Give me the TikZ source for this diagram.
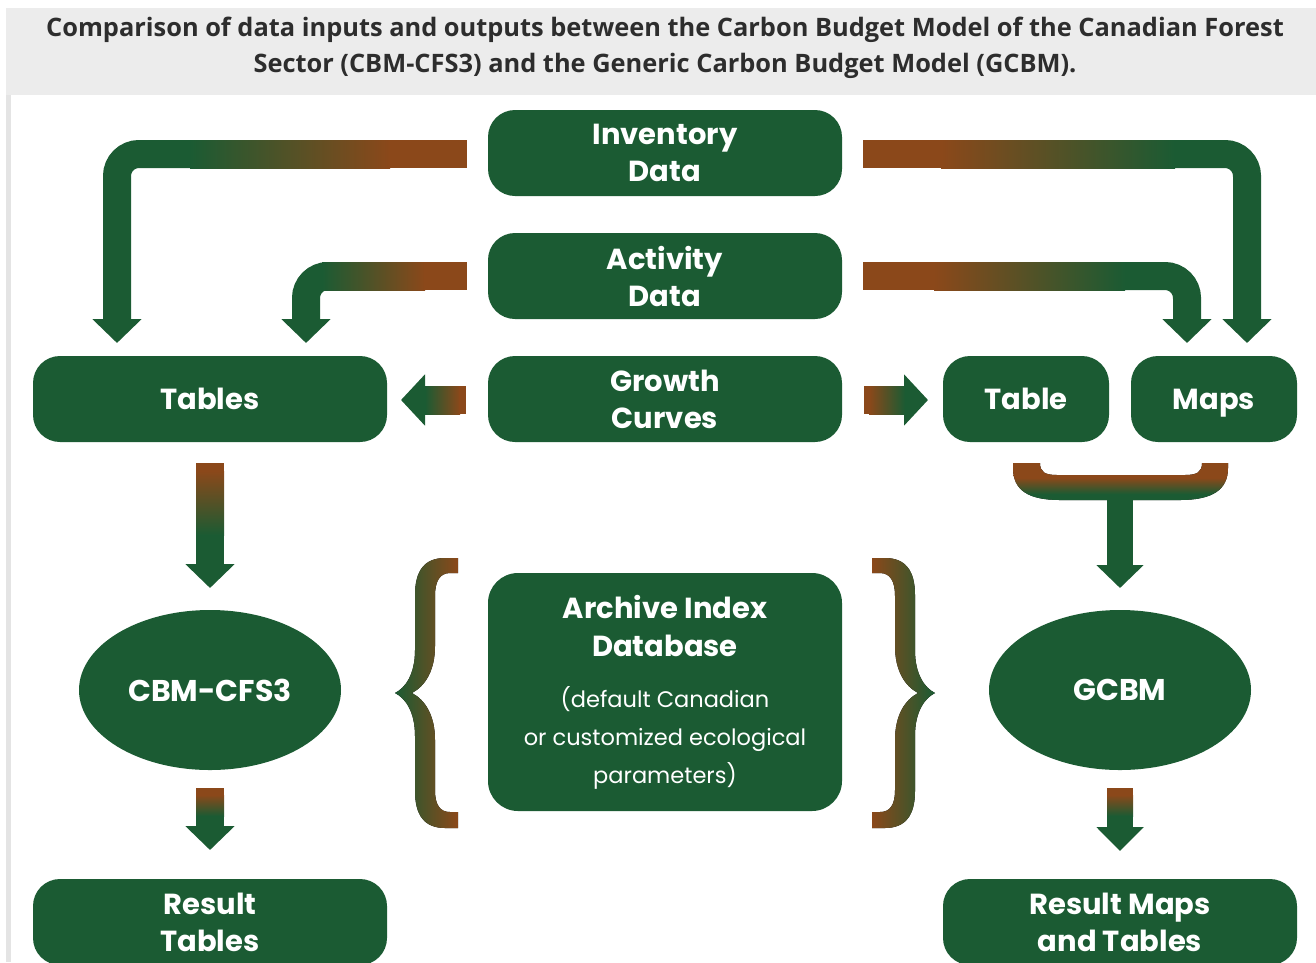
\documentclass[tikz,border=0pt]{standalone}
\usepackage{fontspec}
\setmainfont{Open Sans}
\newfontfamily\boxfont{Poppins}
\usetikzlibrary{shapes.geometric,arrows.meta}

\definecolor{forest}{RGB}{27,91,51}
\definecolor{bark}{RGB}{139,72,26}
\definecolor{titleink}{RGB}{45,45,45}
\definecolor{bandgray}{RGB}{236,236,236}
\definecolor{rulegray}{RGB}{228,228,228}

% bark at the top fading into forest green at the bottom
\pgfdeclareverticalshading{barkdown}{100bp}{color(0bp)=(forest); color(25bp)=(forest); color(33bp)=(forest); color(55bp)=(bark); color(75bp)=(bark); color(100bp)=(bark)}

% outline of a curly brace; #1 = 1 opens to the right, (-1) opens to the left
\newcommand\curlypath[1]{%
 ({665+#1*(-207)},558) -- ({665+#1*(-220)},558)
 .. controls ({665+#1*(-240)},558) and ({665+#1*(-250)},570) .. ({665+#1*(-250)},595)
 -- ({665+#1*(-250)},650)
 .. controls ({665+#1*(-250)},675) and ({665+#1*(-260)},688) .. ({665+#1*(-270)},693)
 .. controls ({665+#1*(-260)},698) and ({665+#1*(-250)},711) .. ({665+#1*(-250)},736)
 -- ({665+#1*(-250)},791)
 .. controls ({665+#1*(-250)},816) and ({665+#1*(-240)},828) .. ({665+#1*(-220)},828)
 -- ({665+#1*(-207)},828) -- ({665+#1*(-207)},812) -- ({665+#1*(-215)},812)
 .. controls ({665+#1*(-225)},812) and ({665+#1*(-230)},805) .. ({665+#1*(-230)},790)
 -- ({665+#1*(-230)},740)
 .. controls ({665+#1*(-230)},715) and ({665+#1*(-240)},700) .. ({665+#1*(-253)},693)
 .. controls ({665+#1*(-240)},686) and ({665+#1*(-230)},671) .. ({665+#1*(-230)},646)
 -- ({665+#1*(-230)},596)
 .. controls ({665+#1*(-230)},581) and ({665+#1*(-225)},573) .. ({665+#1*(-215)},573)
 -- ({665+#1*(-207)},573) -- cycle}

% regular-weight line of the parameter note
\newcommand\noteline[1]{{\mdseries\fontsize{22.5}{37.5}\selectfont #1}}

\tikzset{
  box/.style={rectangle, rounded corners=27pt, fill=forest, text=white,
    inner sep=0pt, minimum height=86pt, align=center,
    font=\boxfont\bfseries\fontsize{29}{37}\selectfont},
  widebox/.style={box, minimum width=354pt},
  smallbox/.style={box, minimum width=166pt},
  model/.style={ellipse, fill=forest, text=white, inner sep=0pt,
    minimum width=262pt, minimum height=160pt,
    font=\boxfont\bfseries\fontsize{30}{37}\selectfont},
  pipe/.style={draw=forest, line width=28pt, rounded corners=22pt,
    -{Triangle[width=48pt,length=24pt]}},
  fade/.style={left color=forest, right color=bark},
  fadeback/.style={left color=bark, right color=forest},
  fadedown/.style={top color=bark, bottom color=forest},
}

\begin{document}
\begin{tikzpicture}[x=1pt,y=-1pt]
\useasboundingbox (0,0) rectangle (1316,962);

% page frame and caption band
\fill[bandgray] (6,8) rectangle (1316,95);
\fill[rulegray] (6,95) rectangle (11,962);
\node[text=titleink, align=center, font=\bfseries\fontsize{25.4}{36}\selectfont]
  (caption) at (665,48) {Comparison of data inputs and outputs between the Carbon Budget Model of the Canadian Forest\\
  Sector (CBM-CFS3) and the Generic Carbon Budget Model (GCBM).};

% data sources
\node[widebox] (inv)  at (665,153) {Inventory\\Data};
\node[widebox] (act)  at (665,276) {Activity\\Data};
\node[widebox] (grow) at (665,399) {Growth\\Curves};

% model inputs
\node[widebox]  (tabs) at (210,399)  {Tables};
\node[smallbox] (tab)  at (1026,399) {Table};
\node[smallbox, text depth=0pt] (maps) at (1214,399) {Maps};

% models and parameters
\node[model] (cbm)  at (210,690)  {CBM-CFS3};
\node[model] (gcbm) at (1120,690) {GCBM};
\node[box, minimum width=354pt, minimum height=238pt, rounded corners=30pt,
  font=\boxfont\bfseries\fontsize{29}{38}\selectfont] (aidb) at (665,692)
  {Archive Index\\Database\\[13pt]
   \noteline{(default Canadian}\\\noteline{or customized ecological}\\\noteline{parameters)}};

% outputs
\node[widebox] (rtab) at (210,922)  {Result\\Tables};
\node[widebox] (rmap) at (1120,922) {Result Maps\\and Tables};

% connector end points
\coordinate (invL)  at (467,154);  \coordinate (invLtip)  at (117,343);
\coordinate (actL)  at (467,276);  \coordinate (actLtip)  at (306,343);
\coordinate (invR)  at (863,154);  \coordinate (invRtip)  at (1247,343);
\coordinate (actR)  at (863,276);  \coordinate (actRtip)  at (1187,343);
\coordinate (growL) at (466,400);  \coordinate (growLtip) at (401,400);
\coordinate (growR) at (864,400);  \coordinate (growRtip) at (928,400);
\coordinate (tabsD) at (210,463);  \coordinate (cbmIn)    at (210,588);
\coordinate (cbmD)  at (210,788);  \coordinate (rtabIn)   at (210,850);
\coordinate (joinD) at (1120,495); \coordinate (gcbmIn)   at (1120,588);
\coordinate (gcbmD) at (1120,788); \coordinate (rmapIn)   at (1120,851);

% inventory -> tables
\draw[pipe] (200,154) -| (invLtip);
\fill[fade] (190,140) rectangle (390,168);
\fill[bark] (389,140) rectangle (invL |- 0,168);
% activity -> tables
\draw[pipe] (335,276) -| (actLtip);
\fill[fade] (322,262) rectangle (425,290);
\fill[bark] (424,262) rectangle (actL |- 0,290);
% inventory -> maps
\draw[pipe] (1165,154) -| (invRtip);
\fill[bark] (invR |- 0,140) rectangle (942,168);
\fill[fadeback] (941,140) rectangle (1175,168);
% activity -> table
\draw[pipe] (1115,276) -| (actRtip);
\fill[bark] (actR |- 0,262) rectangle (935,290);
\fill[fadeback] (934,262) rectangle (1125,290);

% growth curves -> both sides
\draw[pipe, -{Triangle[width=50pt,length=24pt]}] (432,400) -- (growLtip);
\fill[fade] (425,386) rectangle (460,414);
\fill[bark] (459,386) rectangle (growL |- 0,414);
\draw[pipe, -{Triangle[width=50pt,length=24pt]}] (898,400) -- (growRtip);
\fill[bark] (growR |- 0,386) rectangle (870,414);
\fill[fadeback] (869,386) rectangle (905,414);

% tables -> CBM-CFS3 -> result tables
\draw[pipe] (210,528) -- (cbmIn);
\fill[bark] (tabsD -| 196,0) rectangle (224,472);
\fill[fadedown] (196,471) rectangle (224,535);
\draw[pipe] (210,810) -- (rtabIn);
\fill[bark] (cbmD -| 196,0) rectangle (224,796);
\fill[fadedown] (196,795) rectangle (224,816);

% table + maps joined -> GCBM -> result maps
\fill[shading=barkdown]
  (1013,463) -- (1040,463) .. controls (1040,472) and (1045,475) .. (1057,475)
  -- (1185,475) .. controls (1197,475) and (1202,472) .. (1202,463)
  -- (1228,463) -- (1228,468) .. controls (1228,490) and (1212,500) .. (1180,500)
  -- (1060,500) .. controls (1028,500) and (1013,490) .. (1013,468) -- cycle;
\draw[pipe, line width=26pt, -{Triangle[width=46pt,length=23pt]}] (joinD) -- (gcbmIn);
\draw[pipe, line width=26pt, -{Triangle[width=46pt,length=24pt]}] (1120,810) -- (rmapIn);
\fill[bark] (gcbmD -| 1107,0) rectangle (1133,796);
\fill[fadedown] (1107,795) rectangle (1133,816);

% braces around the parameter database
\fill[fade] \curlypath{1};
\fill[fadeback] \curlypath{(-1)};
\end{tikzpicture}
\end{document}
